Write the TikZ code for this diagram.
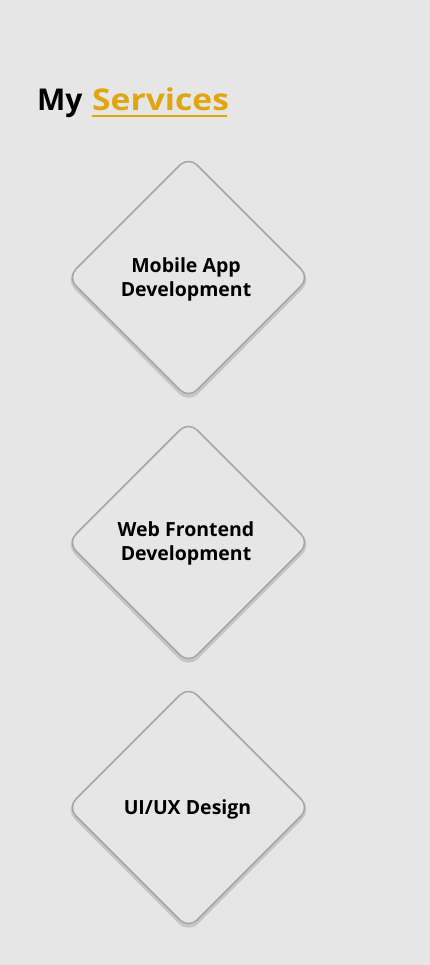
\documentclass[tikz,border=0pt]{standalone}
\usepackage{fontspec}
\setmainfont{Open Sans}
\definecolor{bgc}{HTML}{E6E6E6}
\definecolor{gold}{HTML}{E0A612}
\definecolor{edgec}{HTML}{A6A6A6}
\definecolor{shadowc}{HTML}{C6C6C6}
\definecolor{ink}{HTML}{000000}
\tikzset{
  svcshadow/.style={draw=shadowc, line width=3.5pt, rounded corners=12pt, line join=round},
  svcedge/.style={draw=edgec, fill=bgc, line width=1.5pt, rounded corners=12pt, line join=round},
  svclabel/.style={align=center, text=ink, font=\bfseries\fontsize{19.5}{24}\selectfont, inner sep=0pt},
  titlebox/.style={anchor=base west, inner sep=0pt, font=\bfseries\fontsize{30}{34}\selectfont}
}
\newcommand{\svcdiamond}[2]{%
  \draw[svcshadow] ($(#1)+(0,-119.5)$) -- ($(#1)+(121,2)$) -- ($(#1)+(0,123.5)$) -- ($(#1)+(-121,2)$) -- cycle;
  \draw[svcedge] ($(#1)+(0,-121)$) -- ($(#1)+(121,0)$) -- ($(#1)+(0,121)$) -- ($(#1)+(-121,0)$) -- cycle;
}
\usetikzlibrary{calc}
\begin{document}
\begin{tikzpicture}[x=1pt,y=-1pt]
\fill[bgc] (0,0) rectangle (430,965);
\useasboundingbox (0,0) rectangle (430,965);
% title
\node[titlebox, text=ink] (my) at (37,111) {My};
\node[titlebox, text=gold] (services) at (92,111) {\scalebox{1.12}[1]{Services}};
\draw[gold, line width=2.6pt] ($(services.base west)+(0,5)$) -- ($(services.base east)+(-2,5)$);
% diamonds
\coordinate (c1) at (188.5,277.5);
\coordinate (c2) at (188.5,542.5);
\coordinate (c3) at (188.5,807.5);
\svcdiamond{c1}{}
\svcdiamond{c2}{}
\svcdiamond{c3}{}
\node[svclabel] (mobile) at (186,279.5) {Mobile App\\Development};
\node[svclabel] (web) at (186,543.5) {Web Frontend\\Development};
\node[svclabel] (uiux) at (187.5,809) {UI/UX Design};
\end{tikzpicture}
\end{document}
